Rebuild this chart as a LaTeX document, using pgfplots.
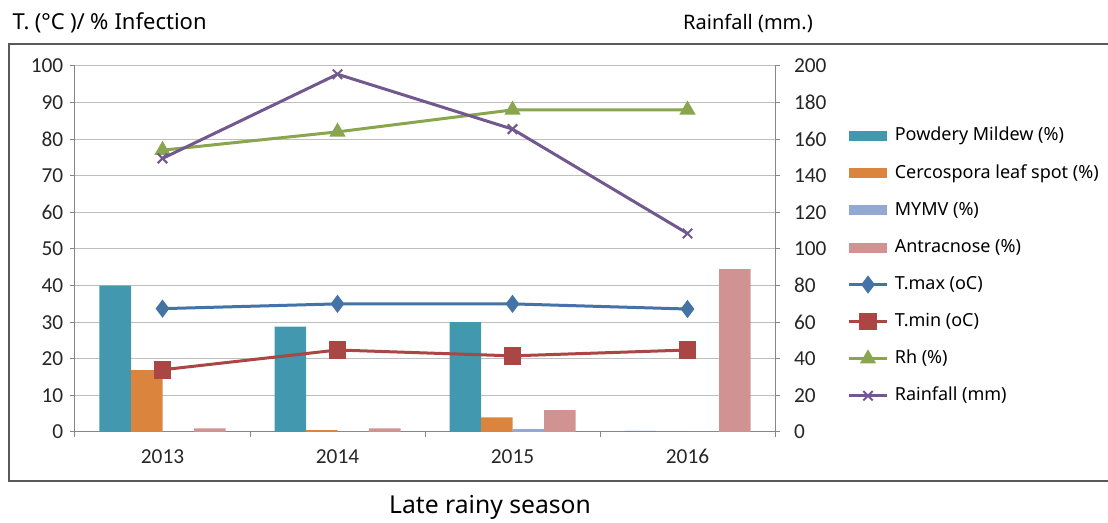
\documentclass[border=0pt]{standalone}
\usepackage{fontspec}
\setmainfont{Carlito}
\newfontfamily\tfont{Noto Sans}
\usepackage{pgfplots}
\pgfplotsset{compat=1.18}

\definecolor{pmild}{HTML}{4198AF}
\definecolor{cerco}{HTML}{DB843D}
\definecolor{mymv}{HTML}{93A9CF}
\definecolor{antra}{HTML}{D19392}
\definecolor{tmax}{HTML}{4572A7}
\definecolor{tmin}{HTML}{AA4643}
\definecolor{rh}{HTML}{89A54E}
\definecolor{rain}{HTML}{71588F}
\definecolor{axgray}{HTML}{868686}
\definecolor{grdgray}{HTML}{BEBEBE}

\pgfplotsset{
  common/.style={
    scale only axis, width=525pt, height=274.5pt,
    at={(56.25pt,68.25pt)}, anchor=south west,
    xmin=-0.5, xmax=3.5,
    tick align=outside, major tick length=3.75pt,
    axis line style={-, draw=axgray, line width=0.75pt},
    every tick/.style={draw=axgray, line width=0.75pt},
    /pgf/number format/assume math mode=true,
    tick label style={font=\fontsize{16}{18}\selectfont, text=black!85},
  },
  barleg/.style={legend image code/.code={\fill[##1] (0pt,-3.75pt) rectangle (29pt,3.75pt);}},
  lineleg/.style={legend image code/.code={\draw[mark repeat=2, mark phase=2, ##1]
      plot coordinates {(0pt,0pt) (14.5pt,0pt) (29pt,0pt)};}},
}

\begin{document}
\begin{tikzpicture}
\path[use as bounding box] (0,0) rectangle (831pt,392.25pt);
\draw[draw=black!65, line width=1.1pt] (6.75pt,31.5pt) rectangle (832pt,359.25pt);

\begin{axis}[common,
  ymin=0, ymax=100, ytick={0,10,...,100},
  axis x line*=bottom, axis y line*=left,
  ymajorgrids, major grid style={draw=grdgray, line width=0.75pt},
  xtick={0,1,2,3}, xticklabels={2013,2014,2015,2016},
  xtick style={draw=none},
  xticklabel style={anchor=base, yshift=-20pt},
  extra x ticks={-0.5,0.5,1.5,2.5,3.5}, extra x tick labels={},
  extra x tick style={xtick style={draw=axgray}},
  yticklabel style={xshift=-1.5pt},
  bar width=0.18, ybar,
  legend cell align=left,
  legend style={draw=none, fill=none, at={(1.097,0.845)}, anchor=north west,
    font=\tfont\fontsize{13.5}{15}\selectfont, row sep=11.8pt,
    nodes={inner sep=1.5pt, text height=10pt, text depth=3pt},
    /tikz/every odd column/.append style={column sep=3pt}},
]
% disease incidence (%)
\addplot[barleg, fill=pmild, draw=none, bar shift=-0.27] coordinates {(0,40) (1,28.8) (2,30) (3,0.3)};
\addplot[barleg, fill=cerco, draw=none, bar shift=-0.09] coordinates {(0,16.9) (1,0.5) (2,4) (3,0)};
\addplot[barleg, fill=mymv, draw=none, bar shift=0.09] coordinates {(0,0) (1,0) (2,0.8) (3,0)};
\addplot[barleg, fill=antra, draw=none, bar shift=0.27] coordinates {(0,1) (1,1) (2,6) (3,44.5)};
% temperature and humidity
\addplot[lineleg, sharp plot, tmax, line width=2.25pt, mark=diamond*, mark size=5pt,
  mark options={solid, fill=tmax}] coordinates {(0,33.7) (1,35) (2,35) (3,33.6)};
\addplot[lineleg, sharp plot, tmin, line width=2.25pt, mark=square*, mark size=5.5pt,
  mark options={solid, fill=tmin}] coordinates {(0,17) (1,22.4) (2,20.8) (3,22.4)};
\addplot[lineleg, sharp plot, rh, line width=2.25pt, mark=triangle*, mark size=4.8pt,
  mark options={solid, fill=rh}] coordinates {(0,77) (1,82) (2,88) (3,88)};
\addlegendimage{lineleg, sharp plot, rain, line width=2.25pt, mark=x, mark size=5pt, mark options={solid, line width=1.5pt}}
\legend{Powdery Mildew (\%), Cercospora leaf spot (\%), MYMV (\%), Antracnose (\%),
  T.max ({\bfseries o}C), T.min ({\bfseries o}C), Rh (\%), Rainfall (mm)}
\end{axis}

\begin{axis}[common,
  ymin=0, ymax=200, ytick={0,20,...,200},
  axis y line*=right, axis x line=none,
  yticklabel style={xshift=7pt},
]
% rainfall (mm)
\addplot[rain, line width=2.25pt, mark=x, mark size=5pt, mark options={line width=1.5pt}]
  coordinates {(0,149.5) (1,195.5) (2,165.5) (3,108.5)};
\end{axis}

\node[anchor=west, font=\tfont\fontsize{16.5}{18}\selectfont] at (6pt,375pt)
  {T.\hspace{4pt}(°C\hspace{4pt})/\hspace{4pt}\%\hspace{4.5pt}Infection};
\node[font=\tfont\fontsize{15}{17}\selectfont] at (561pt,375pt) {Rainfall (mm.)};
\node[font=\tfont\fontsize{18.5}{20}\selectfont] at (367.5pt,12pt) {Late rainy season};
\end{tikzpicture}
\end{document}
